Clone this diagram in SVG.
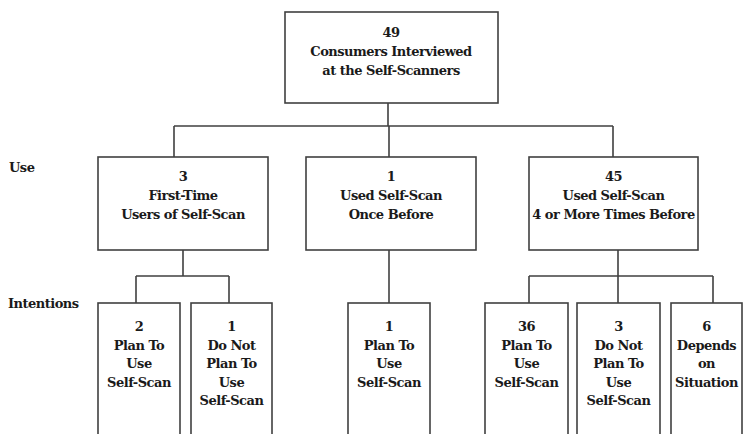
<svg xmlns="http://www.w3.org/2000/svg" width="746" height="434" viewBox="0 0 746 434">
<style>
.box{fill:#fff;stroke:#404040;stroke-width:1.6}
.ln{fill:none;stroke:#404040;stroke-width:1.6}
.t text{font-weight:bold;font-size:13px;letter-spacing:-0.5px;fill:#1a1a1a;text-anchor:middle}
.t text.lbl{text-anchor:start}
</style>
<rect width="746" height="434" fill="#fff"/>
<g id="connectors">
<path class="ln" d="M388,103 V126 M174,126 H613 M174,126 V157 M389,126 V157 M613,126 V157"/>
<path class="ln" d="M183,250 V276 M136,276 H229 M136,276 V303 M229,276 V303"/>
<path class="ln" d="M389,250 V303"/>
<path class="ln" d="M618,250 V276 M529,276 H713 M529,276 V303 M618,276 V303 M713,276 V303"/>
</g>
<g class="t" font-family="DejaVu Serif, serif">
<g id="label-use"><text class="lbl" x="9" y="172">Use</text></g>
<g id="label-intentions"><text class="lbl" x="8" y="308">Intentions</text></g>
<g id="root">
<rect class="box" x="285" y="12" width="213" height="91"/>
<text x="391" y="37">49</text>
<text x="391" y="56">Consumers Interviewed</text>
<text x="391" y="75">at the Self-Scanners</text>
</g>
<g id="use-first">
<rect class="box" x="98" y="157" width="170" height="93"/>
<text x="183" y="181">3</text>
<text x="183" y="200">First-Time</text>
<text x="183" y="219">Users of Self-Scan</text>
</g>
<g id="use-once">
<rect class="box" x="306" y="157" width="170" height="93"/>
<text x="391" y="181">1</text>
<text x="391" y="200">Used Self-Scan</text>
<text x="391" y="219">Once Before</text>
</g>
<g id="use-four">
<rect class="box" x="529" y="157" width="169" height="93"/>
<text x="613.5" y="181">45</text>
<text x="613.5" y="200">Used Self-Scan</text>
<text x="613.5" y="219">4 or More Times Before</text>
</g>
<g id="int-1">
<rect class="box" x="98" y="303" width="82" height="140"/>
<text x="139" y="331">2</text>
<text x="139" y="350">Plan To</text>
<text x="139" y="368">Use</text>
<text x="139" y="387">Self-Scan</text>
</g>
<g id="int-2">
<rect class="box" x="191" y="303" width="81" height="140"/>
<text x="231.5" y="331">1</text>
<text x="231.5" y="350">Do Not</text>
<text x="231.5" y="368">Plan To</text>
<text x="231.5" y="387">Use</text>
<text x="231.5" y="405">Self-Scan</text>
</g>
<g id="int-3">
<rect class="box" x="348" y="303" width="82" height="140"/>
<text x="389" y="331">1</text>
<text x="389" y="350">Plan To</text>
<text x="389" y="368">Use</text>
<text x="389" y="387">Self-Scan</text>
</g>
<g id="int-4">
<rect class="box" x="485" y="303" width="83" height="140"/>
<text x="526.5" y="331">36</text>
<text x="526.5" y="350">Plan To</text>
<text x="526.5" y="368">Use</text>
<text x="526.5" y="387">Self-Scan</text>
</g>
<g id="int-5">
<rect class="box" x="577" y="303" width="83" height="140"/>
<text x="618.5" y="331">3</text>
<text x="618.5" y="350">Do Not</text>
<text x="618.5" y="368">Plan To</text>
<text x="618.5" y="387">Use</text>
<text x="618.5" y="405">Self-Scan</text>
</g>
<g id="int-6">
<rect class="box" x="671" y="303" width="71" height="140"/>
<text x="706.5" y="331">6</text>
<text x="706.5" y="350">Depends</text>
<text x="706.5" y="368">on</text>
<text x="706.5" y="387">Situation</text>
</g>
</g>
</svg>
